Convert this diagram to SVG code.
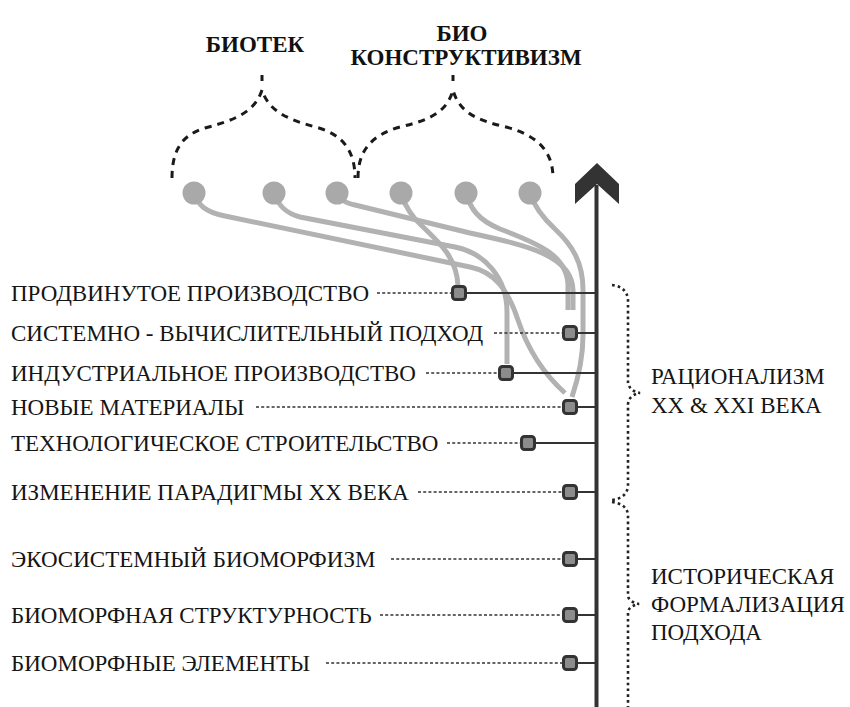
<svg xmlns="http://www.w3.org/2000/svg" width="850" height="707" viewBox="0 0 850 707">
<defs>
<rect id="mk" x="-6.5" y="-6.5" width="13" height="13" rx="3" fill="#8c8c8c" stroke="#333" stroke-width="3"/>
<circle id="src" r="11.5" fill="#a9a9a9"/>
</defs>
<rect width="850" height="707" fill="#fff"/>

<g id="titles" fill="#111">
<text font-family="Liberation Serif" font-size="23" font-weight="bold" x="255" y="52" text-anchor="middle">БИОТЕК</text>
<text font-family="Liberation Serif" font-size="23" font-weight="bold" x="462" y="41" text-anchor="middle">БИО</text>
<text font-family="Liberation Serif" font-size="23" font-weight="bold" x="466" y="65" text-anchor="middle">КОНСТРУКТИВИЗМ</text>
</g>

<g id="braces-top" fill="none" stroke="#1a1a1a" stroke-width="3">
<path stroke-dasharray="7 6" d="M172,178 C172,150 182,135 205,128 C235,120 255,112 262,90 C269,112 289,120 319,128 C342,135 355,150 355,178"/>
<line x1="262" y1="75" x2="262" y2="81"/>
<path stroke-dasharray="7 6" d="M358,178 C358,150 372,135 400,127 C430,120 447,112 453,90 C459,112 476,120 506,127 C536,135 553,150 553,178"/>
<line x1="453" y1="75" x2="453" y2="81"/>
</g>

<g id="axis">
<line x1="596.5" y1="185" x2="596.5" y2="707" stroke="#333" stroke-width="4"/>
<polygon points="597,163 619,184 619,204 597,184 575,204 575,184" fill="#333"/>
</g>

<g id="connectors">
<g fill="none" stroke="#b2b2b2" stroke-width="5">
<path d="M194,193 C198,205 205,212 225,216 L470,267 C495,272 508,290 518,320 C528,350 545,375 565,393"/>
<path d="M274,193 C278,205 285,213 300,217 L455,247 C485,253 507,278 507,312 L507,364"/>
<path d="M337,193 C342,201 346,203 355,205 L470,233 C530,246 572,256 573,290 L573,310"/>
<path d="M400,193 C405,205 410,215 420,224 C440,243 457,258 458,286"/>
<path d="M466,193 C470,208 478,220 500,229 C540,244 567,256 568,285 L568,310"/>
<path d="M530,193 C534,206 542,217 555,229 C572,245 583,262 583,290 L583,335 C583,360 577,382 572,397"/>
</g>
<g stroke="#333" stroke-width="1.3" stroke-dasharray="3 2.2">
<line x1="377" y1="293" x2="451" y2="293"/>
<line x1="494" y1="333" x2="562" y2="333"/>
<line x1="426" y1="373" x2="498" y2="373"/>
<line x1="256" y1="407" x2="562" y2="407"/>
<line x1="447" y1="443" x2="520" y2="443"/>
<line x1="418" y1="492" x2="562" y2="492"/>
<line x1="391" y1="559" x2="562" y2="559"/>
<line x1="380" y1="615" x2="562" y2="615"/>
<line x1="326" y1="663" x2="562" y2="663"/>
</g>
<g stroke="#333" stroke-width="2">
<line x1="466" y1="293" x2="595" y2="293"/>
<line x1="577" y1="333" x2="595" y2="333"/>
<line x1="513" y1="373" x2="595" y2="373"/>
<line x1="577" y1="407" x2="595" y2="407"/>
<line x1="535" y1="443" x2="595" y2="443"/>
<line x1="577" y1="492" x2="595" y2="492"/>
<line x1="577" y1="559" x2="595" y2="559"/>
<line x1="577" y1="615" x2="595" y2="615"/>
<line x1="577" y1="663" x2="595" y2="663"/>
</g>
</g>

<g id="sources">
<use href="#src" x="194" y="193"/>
<use href="#src" x="274" y="193"/>
<use href="#src" x="337" y="193"/>
<use href="#src" x="401" y="193"/>
<use href="#src" x="466" y="193"/>
<use href="#src" x="530" y="193"/>
</g>

<g id="n1"><text font-family="Liberation Serif" font-size="23" fill="#151515" x="11" y="301">ПРОДВИНУТОЕ ПРОИЗВОДСТВО</text><use href="#mk" x="459" y="293"/></g>
<g id="n2"><text font-family="Liberation Serif" font-size="23" fill="#151515" x="11" y="341">СИСТЕМНО - ВЫЧИСЛИТЕЛЬНЫЙ ПОДХОД</text><use href="#mk" x="570" y="333"/></g>
<g id="n3"><text font-family="Liberation Serif" font-size="23" fill="#151515" x="11" y="381">ИНДУСТРИАЛЬНОЕ ПРОИЗВОДСТВО</text><use href="#mk" x="506" y="373"/></g>
<g id="n4"><text font-family="Liberation Serif" font-size="23" fill="#151515" x="11" y="415">НОВЫЕ МАТЕРИАЛЫ</text><use href="#mk" x="570" y="407"/></g>
<g id="n5"><text font-family="Liberation Serif" font-size="23" fill="#151515" x="11" y="451">ТЕХНОЛОГИЧЕСКОЕ СТРОИТЕЛЬСТВО</text><use href="#mk" x="528" y="443"/></g>
<g id="n6"><text font-family="Liberation Serif" font-size="23" fill="#151515" x="11" y="500">ИЗМЕНЕНИЕ ПАРАДИГМЫ XX ВЕКА</text><use href="#mk" x="570" y="492"/></g>
<g id="n7"><text font-family="Liberation Serif" font-size="23" fill="#151515" x="11" y="567">ЭКОСИСТЕМНЫЙ БИОМОРФИЗМ</text><use href="#mk" x="570" y="559"/></g>
<g id="n8"><text font-family="Liberation Serif" font-size="23" fill="#151515" x="11" y="623">БИОМОРФНАЯ СТРУКТУРНОСТЬ</text><use href="#mk" x="570" y="615"/></g>
<g id="n9"><text font-family="Liberation Serif" font-size="23" fill="#151515" x="11" y="671">БИОМОРФНЫЕ ЭЛЕМЕНТЫ</text><use href="#mk" x="570" y="663"/></g>

<g id="groups">
<g fill="none" stroke="#222" stroke-width="2.6" stroke-dasharray="2.6 3.2">
<path d="M612,285 Q627,287 628,300 L628,382 Q629,391 640,393 Q629,395 628,404 L628,486 Q627,498 612,500"/>
<path d="M612,502 Q627,504 628,515 L628,596 Q629,602 639,604 Q629,606 628,612 L628,707"/>
</g>
<text font-family="Liberation Serif" font-size="23" fill="#151515" x="651" y="384">РАЦИОНАЛИЗМ</text>
<text font-family="Liberation Serif" font-size="23" fill="#151515" x="651" y="413">XX &amp; XXI ВЕКА</text>
<text font-family="Liberation Serif" font-size="23" fill="#151515" x="651" y="584">ИСТОРИЧЕСКАЯ</text>
<text font-family="Liberation Serif" font-size="23" fill="#151515" x="651" y="612">ФОРМАЛИЗАЦИЯ</text>
<text font-family="Liberation Serif" font-size="23" fill="#151515" x="651" y="640">ПОДХОДА</text>
</g>
</svg>
